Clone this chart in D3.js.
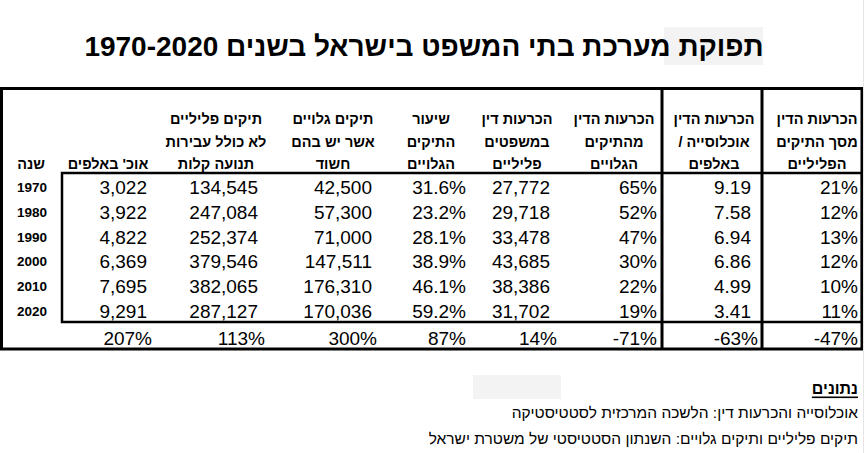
<!DOCTYPE html>
<html><head><meta charset="utf-8">
<script src="https://cdn.jsdelivr.net/npm/d3@7/dist/d3.min.js"></script>
<style>
html,body{margin:0;padding:0;background:#fff;}
svg{display:block;}
</style></head>
<body>
<script>
// ---- data ----
const title = "תפוקת מערכת בתי המשפט בישראל בשנים 1970-2020";
const years = [1970, 1980, 1990, 2000, 2010, 2020];
const population = [3022, 3922, 4822, 6369, 7695, 9291];            // אוכ' באלפים
const criminalCases = [134545, 247084, 252374, 379546, 382065, 287127];
const solvedCases = [42500, 57300, 71000, 147511, 176310, 170036];
const solvedRate = [31.6, 23.2, 28.1, 38.9, 46.1, 59.2];
const convictions = [27772, 29718, 33478, 43685, 38386, 31702];
const convictionsOfSolved = [65, 52, 47, 30, 22, 19];
const convictionsPerPop = [9.19, 7.58, 6.94, 6.86, 4.99, 3.41];
const convictionsOfCases = [21, 12, 13, 12, 10, 11];
const changeRow = [207, 113, 300, 87, 14, -71, -63, -47];
const headers = [
  ["שנה"],
  ["אוכ' באלפים"],
  ["תיקים פליליים", "לא כולל עבירות", "תנועה קלות"],
  ["תיקים גלויים", "אשר יש בהם", "חשוד"],
  ["שיעור", "התיקים", "הגלויים"],
  ["הכרעות דין", "במשפטים", "פליליים"],
  ["הכרעות הדין", "מהתיקים", "הגלויים"],
  ["הכרעות הדין", "/ אוכלוסייה", "באלפים"],
  ["הכרעות הדין", "מסך התיקים", "הפליליים"]
];
const sourceTitle = "נתונים";
const sources = [
  "אוכלוסייה והכרעות דין: הלשכה המרכזית לסטטיסטיקה",
  "תיקים פליליים ותיקים גלויים: השנתון הסטטיסטי של משטרת ישראל"
];

// ---- layout ----
const W = 865, H = 453;
const svg = d3.select("body").append("svg").attr("width", W).attr("height", H);

const hy = s => s.replace(/\u2212/g, "-");
const fmtInt = d3.format(",");
const fmtPct1 = v => d3.format(".1f")(v) + "%";
const fmtPct0 = v => hy(d3.format("d")(v)) + "%";
const fmt2 = d3.format(".2f");

// columns: header center, value right edge, total right edge
const columns = [
  {hc: 31},
  {vals: population, f: fmtInt, hc: 108, r: 147, tr: 152},
  {vals: criminalCases, f: fmtInt, hc: 216, r: 258, tr: 265},
  {vals: solvedCases, f: fmtInt, hc: 333, r: 372, tr: 377},
  {vals: solvedRate, f: fmtPct1, hc: 431, r: 466, tr: 466},
  {vals: convictions, f: fmtInt, hc: 517, r: 550, tr: 557},
  {vals: convictionsOfSolved, f: fmtPct0, hc: 614, r: 657, tr: 657},
  {vals: convictionsPerPop, f: fmt2, hc: 714, r: 751, tr: 758},
  {vals: convictionsOfCases, f: fmtPct0, hc: 817, r: 858, tr: 858}
];

// row scale
const y = d3.scaleBand().domain(years).range([175, 324]);
const yc = d => y(d) + y.bandwidth() / 2;
const headerY = d3.scalePoint().domain([0, 1, 2]).range([119, 164]);
const totalY = 338;

// grey artifacts
svg.append("rect").attr("x", 664).attr("y", 27).attr("width", 99).attr("height", 38).attr("fill", "#f3f3f3");
svg.append("rect").attr("x", 473).attr("y", 375).attr("width", 88).attr("height", 24).attr("fill", "#f3f3f3");

// title
svg.append("text")
  .attr("x", 424).attr("y", 46)
  .attr("direction", "rtl")
  .attr("text-anchor", "middle").attr("dominant-baseline", "central")
  .style("font-family", "'Liberation Sans', Arial, sans-serif")
  .style("font-weight", "bold").style("font-size", "28px")
  .text(title);

// frame lines
const g = svg.append("g").attr("stroke", "#000").attr("fill", "none");
g.append("rect").attr("x", 1.5).attr("y", 88.5).attr("width", 860.5).attr("height", 260.5).attr("stroke-width", 3);
g.append("rect").attr("x", 62).attr("y", 173).attr("width", 800).attr("height", 149).attr("stroke-width", 2.5);
[662, 762].forEach(x => g.append("line").attr("x1", x).attr("x2", x).attr("y1", 88).attr("y2", 349).attr("stroke-width", 3));

// headers
const hg = svg.append("g")
  .style("font-family", "'Liberation Sans', Arial, sans-serif")
  .style("font-weight", "bold").style("font-size", "14.5px");
headers.forEach((lines, ci) => {
  const offset = 3 - lines.length;
  const hc = columns[ci].hc;
  lines.forEach((line, i) => {
    const yy = headerY(i + offset);
    const m = line.match(/^\/\s(.*)$/);
    if (m) {
      // leading slash shown on the visual left of the Hebrew word
      const word = hg.append("text").attr("y", yy).attr("dominant-baseline", "central")
        .attr("text-anchor", "end").text(m[1]);
      const sl = hg.append("text").attr("y", yy).attr("dominant-baseline", "central")
        .attr("text-anchor", "start").text("/");
      const w = word.node().getComputedTextLength();
      const s = sl.node().getComputedTextLength();
      const gap = 4, total = w + s + gap;
      word.attr("x", hc + total / 2);
      sl.attr("x", hc - total / 2);
    } else {
      hg.append("text").attr("x", hc).attr("y", yy)
        .attr("direction", "rtl")
        .attr("text-anchor", "middle").attr("dominant-baseline", "central")
        .text(line);
    }
  });
});

// years
svg.append("g").selectAll("text").data(years).join("text")
  .attr("x", 32).attr("y", d => yc(d))
  .attr("text-anchor", "middle").attr("dominant-baseline", "central")
  .style("font-family", "'Liberation Sans', Arial, sans-serif")
  .style("font-weight", "bold").style("font-size", "13.5px")
  .text(d => d);

// values
const vg = svg.append("g")
  .style("font-family", "'Liberation Sans', Arial, sans-serif")
  .style("font-size", "19px");
columns.slice(1).forEach((col, i) => {
  vg.selectAll(null).data(col.vals).join("text")
    .attr("x", col.r).attr("y", (d, j) => yc(years[j]))
    .attr("text-anchor", "end").attr("dominant-baseline", "central")
    .text(d => col.f(d));
  vg.append("text")
    .attr("x", col.tr).attr("y", totalY)
    .attr("text-anchor", "end").attr("dominant-baseline", "central")
    .text(fmtPct0(changeRow[i]));
});

// sources
svg.append("text")
  .attr("x", 858).attr("y", 388)
  .attr("text-anchor", "end").attr("dominant-baseline", "central")
  .style("font-family", "'Liberation Sans', Arial, sans-serif")
  .style("font-weight", "bold").style("font-size", "16px")
  .style("text-decoration", "underline")
  .text(sourceTitle);
svg.append("g").selectAll("text").data(sources).join("text")
  .attr("x", 858).attr("y", (d, i) => 412 + i * 26)
  .attr("direction", "rtl")
  .attr("text-anchor", "start").attr("dominant-baseline", "central")
  .style("font-family", "'Liberation Sans Narrow', 'Liberation Sans', Arial, sans-serif")
  .style("font-size", "15.5px")
  .text(d => d);

// light right edge line
svg.append("line").attr("x1", 863.5).attr("x2", 863.5).attr("y1", 0).attr("y2", H).attr("stroke", "#e6e6e6");
</script>
</body></html>
